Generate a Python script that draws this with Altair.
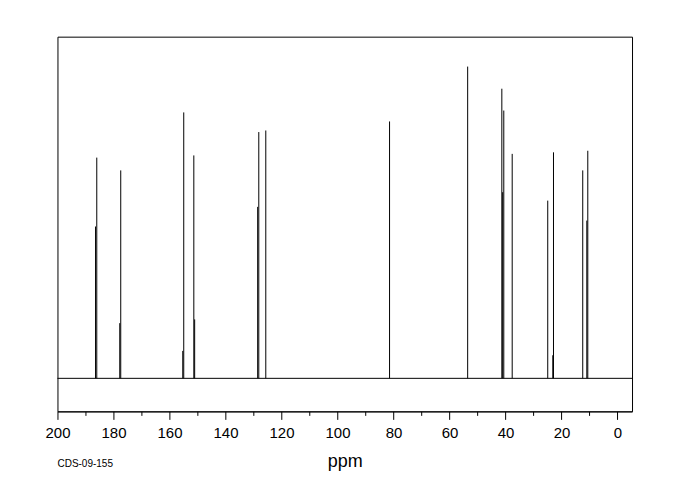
import altair as alt
import pandas as pd

# Peak positions (ppm) and relative intensities (tallest = 100)
ppm = [186.4, 185.96, 177.75, 177.4, 155.25, 154.9, 151.3, 151.0,
       128.5, 128.1, 125.6, 81.4, 53.5, 41.3, 41.0, 40.6, 37.6,
       24.9, 23.1, 22.85, 12.4, 10.95, 10.6]
intensity = [48.7, 70.8, 17.7, 66.7, 8.8, 85.3, 71.5, 18.9,
             55.0, 79.0, 79.5, 82.4, 100.0, 92.9, 59.7, 85.9, 72.0,
             57.0, 7.4, 72.5, 66.7, 50.6, 73.0]
tick_values = list(range(0, 201, 10))
label = "CDS-09-155"

peaks = pd.DataFrame({"ppm": ppm, "h": intensity, "base": [0.0] * len(ppm)})

W, H = 575, 375
xscale = alt.Scale(domain=[200, -5.2], nice=False, zero=False)
yscale = alt.Scale(domain=[-10.6, 109.6], nice=False, zero=False)

xaxis = alt.Axis(
    values=tick_values,
    labelExpr="datum.value % 20 === 0 ? datum.label : ''",
    tickSize={"condition": {"test": "datum.value % 20 === 0", "value": 8}, "value": 4},
    tickColor="black", domainColor="black", tickWidth=1, domainWidth=1,
    labelColor="black", labelFont="Liberation Sans", labelFontSize=15,
    labelPadding=6, grid=False, labelFlush=False,
    title="ppm", titleFont="Liberation Sans", titleFontSize=18,
    titleFontWeight="normal", titleColor="black", titlePadding=12,
)

lines = alt.Chart(peaks).mark_rule(color="black", strokeWidth=1).encode(
    x=alt.X("ppm:Q", scale=xscale, axis=xaxis),
    y=alt.Y("base:Q", scale=yscale, axis=None),
    y2="h:Q",
)

baseline = alt.Chart(pd.DataFrame({"v": [0.0]})).mark_rule(color="black", strokeWidth=1).encode(
    y=alt.Y("v:Q", scale=yscale, axis=None),
    x=alt.value(0), x2=alt.value(W),
)

txt = alt.Chart(pd.DataFrame({"t": [label]})).mark_text(
    align="left", baseline="middle", font="Liberation Sans", fontSize=10, color="black"
).encode(text="t:N", x=alt.value(0), y=alt.value(428))

chart = alt.layer(lines, baseline, txt).properties(
    width=W, height=H,
    autosize="none",
    padding={"left": 49.5, "top": 28.5, "right": 40, "bottom": 70},
    background="white",
).configure_view(stroke="black", strokeWidth=1)

chart.save("out.html", embed_options={"renderer": "svg", "actions": False})
